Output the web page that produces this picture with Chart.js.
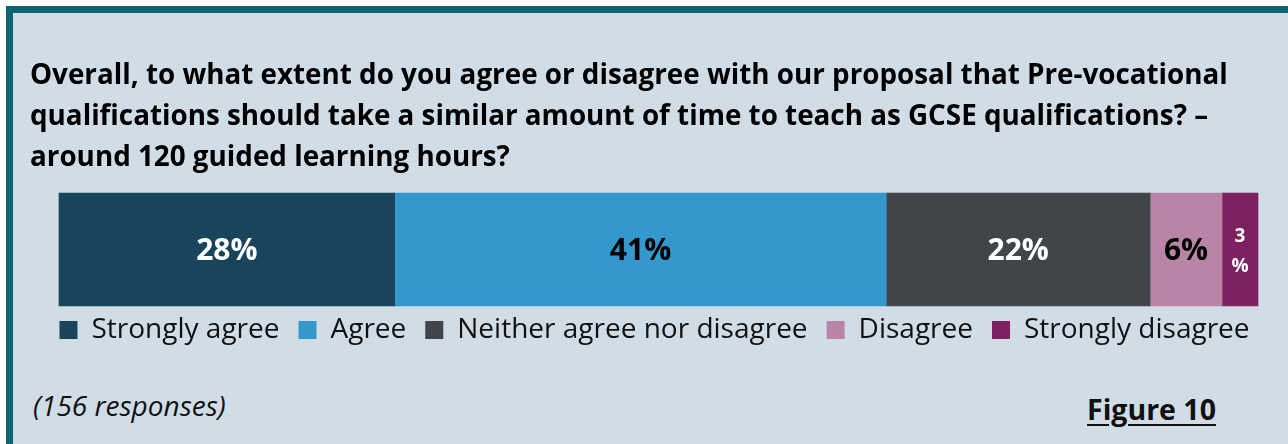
<!DOCTYPE html>
<html>
<head>
<meta charset="utf-8">
<title>Pre-vocational qualifications – guided learning hours</title>
<script src="https://cdn.jsdelivr.net/npm/chart.js@4/dist/chart.umd.min.js"></script>
<style>
  html, body { margin: 0; padding: 0; width: 1288px; height: 444px; overflow: hidden; background: #ffffff; }
  .panel {
    position: absolute; left: 6px; top: 6px; width: 1320px; height: 480px;
    box-sizing: border-box; background: #d0dde6;
    border-top: 7px solid #0e6471; border-left: 7px solid #0e6471;
  }
  #chart { position: absolute; left: 0; top: 0; }
  .note {
    position: absolute; left: 33px; top: 391px; margin: 0;
    font: italic 28px/1 "Open Sans", sans-serif; color: #111;
    white-space: nowrap;
  }
  .figure {
    position: absolute; left: 1087px; top: 395px; margin: 0;
    font: bold 28.5px/1 "Open Sans", sans-serif; color: #111;
    text-decoration: underline; text-decoration-thickness: 2px; text-underline-offset: 4px;
    white-space: nowrap;
  }
</style>
</head>
<body>
<div class="panel"></div>
<canvas id="chart" width="1288" height="360"></canvas>
<p class="note">(156 responses)</p>
<p class="figure">Figure 10</p>

<script>
// Survey question, split into the lines it is set in
const titleLines = [
  'Overall, to what extent do you agree or disagree with our proposal that Pre-vocational',
  'qualifications should take a similar amount of time to teach as GCSE qualifications? –',
  'around 120 guided learning hours?'
];

// Response options and their share of the 156 responses (%)
const categories = ['Strongly agree', 'Agree', 'Neither agree nor disagree', 'Disagree', 'Strongly disagree'];
const percentages = [28, 41, 22, 6, 3];
const rowLabels = ['All responses'];

// Segment fills and the colour of the value printed on each
const segmentColours = ['#18455c', '#3498cd', '#414549', '#b885a7', '#7d2160'];
const labelColours = ['#ffffff', '#000000', '#ffffff', '#000000', '#ffffff'];

const FONT = '"Open Sans", sans-serif';

// Prints each segment's percentage in its centre; narrow segments get a
// smaller font with the number and the % sign stacked
const segmentLabels = {
  id: 'segmentLabels',
  afterDatasetsDraw(chart) {
    const ctx = chart.ctx;
    chart.data.datasets.forEach((ds, i) => {
      const meta = chart.getDatasetMeta(i);
      if (meta.hidden) return;
      meta.data.forEach((bar, j) => {
        const v = ds.data[j];
        const p = bar.getProps(['x', 'y', 'base'], true);
        const left = Math.min(p.x, p.base);
        const w = Math.abs(p.x - p.base);
        const cx = left + w / 2;
        const text = v + '%';
        ctx.save();
        ctx.fillStyle = labelColours[i];
        ctx.textAlign = 'center';
        ctx.textBaseline = 'middle';
        ctx.font = 'bold 30px ' + FONT;
        if (ctx.measureText(text).width < w - 8) {
          ctx.fillText(text, cx, p.y + 2);
        } else {
          ctx.font = 'bold 19px ' + FONT;
          ctx.fillText(String(v), cx, p.y - 13);
          ctx.fillText('%', cx, p.y + 17);
        }
        ctx.restore();
      });
    });
  }
};

new Chart(document.getElementById('chart'), {
  type: 'bar',
  data: {
    labels: rowLabels,
    datasets: categories.map((name, i) => ({
      label: name,
      data: [percentages[i]],
      backgroundColor: segmentColours[i],
      borderWidth: 0,
      barThickness: 113,
      clip: false
    }))
  },
  options: {
    responsive: false,
    animation: false,
    indexAxis: 'y',
    layout: { padding: { top: 10, left: 30, right: 9, bottom: 6 } },
    plugins: {
      title: {
        display: true,
        text: titleLines,
        align: 'start',
        color: '#000000',
        font: { family: FONT, size: 27.8, weight: 'bold', lineHeight: '41px' },
        padding: { top: 46, bottom: 23 }
      },
      legend: {
        position: 'bottom',
        align: 'center',
        labels: {
          boxWidth: 18,
          boxHeight: 18,
          padding: 19,
          color: '#111111',
          font: { family: FONT, size: 28 }
        }
      },
      tooltip: { enabled: false }
    },
    scales: {
      x: { stacked: true, min: 0, max: 100, display: false },
      y: {
        stacked: true,
        ticks: { display: false },
        grid: { display: false },
        border: { display: false },
        afterFit(scale) { scale.width = 29; }
      },
      yEnd: {
        type: 'linear',
        position: 'right',
        ticks: { display: false },
        grid: { display: false },
        border: { display: false },
        afterFit(scale) { scale.width = 21; }
      }
    }
  },
  plugins: [segmentLabels]
});
</script>
</body>
</html>
